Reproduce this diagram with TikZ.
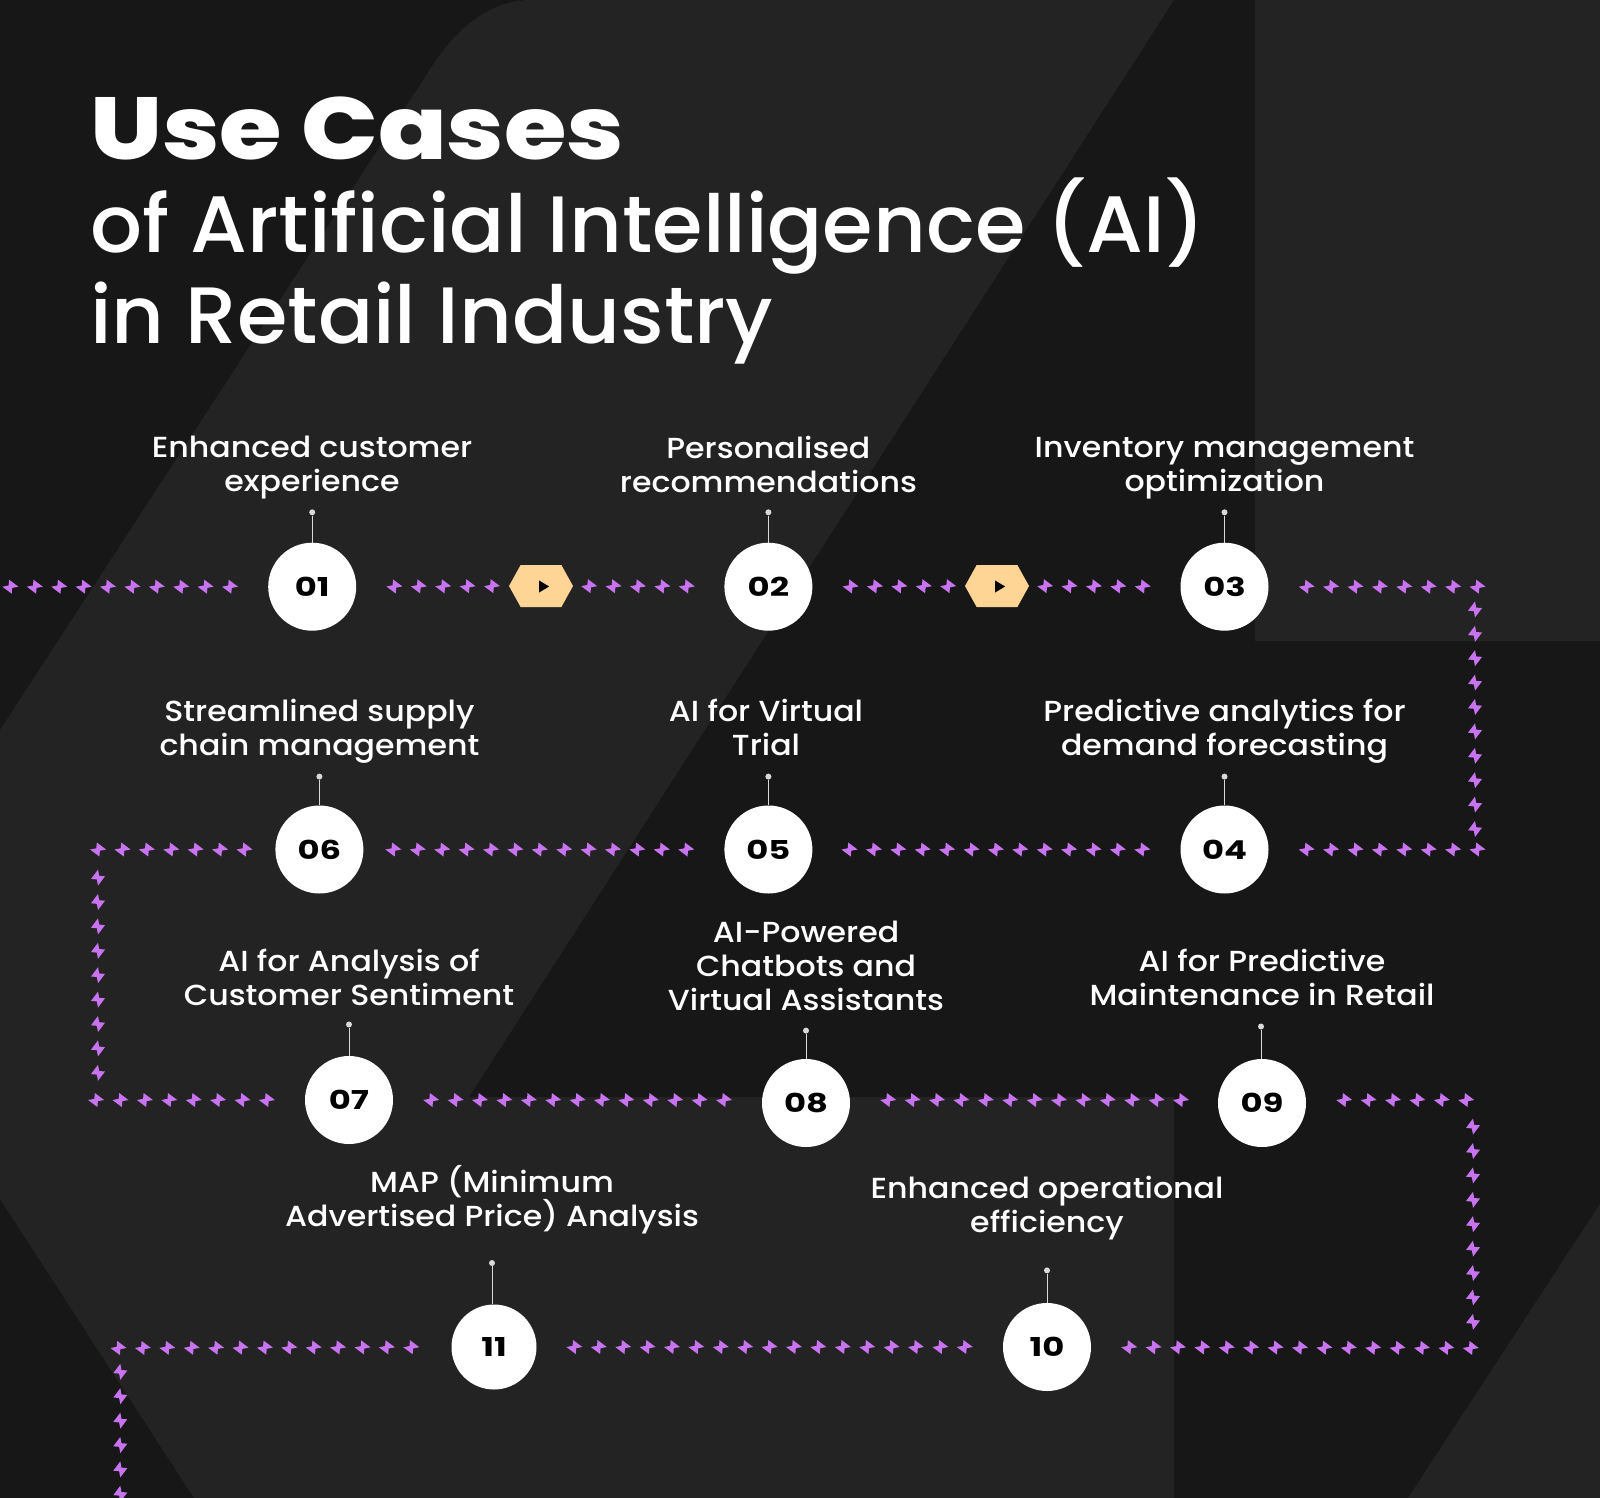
\documentclass[tikz,border=0pt]{standalone}
\usepackage{fontspec}
\setmainfont{Poppins Medium}[FakeStretch=1.09,BoldFont=Poppins ExtraBold]
\newfontfamily\numfont{Poppins}[FakeStretch=1.3]
\newfontfamily\headfont{Poppins Medium}[FakeStretch=1.02]
\newfontfamily\headboldfont{Poppins ExtraBold}[FakeStretch=1.15]
\usetikzlibrary{shapes.geometric,shapes.symbols,decorations.markings}
\definecolor{basedark}{HTML}{171717}
\definecolor{baselight}{HTML}{232323}
\definecolor{boltpurple}{HTML}{C873F0}
\definecolor{hexorange}{HTML}{FFD596}
\newcommand{\boltmark}{\fill[boltpurple] (8,0) -- (-1.3,-7) -- (-1.8,-1.2) -- (-8,0) -- (1.3,7) -- (1.8,1.2) -- cycle;}
\tikzset{
  stepcircle/.style={draw=none, fill=white, circle, minimum size=88pt, inner sep=0pt, text=black, font=\numfont\bfseries\fontsize{26}{26}\selectfont},
  steplabel/.style={align=center, text=white, font=\fontsize{29}{34}\selectfont},
  pindot/.style={fill=white!85!black, circle, minimum size=6pt, inner sep=0pt},
  pinline/.style={draw=white!85!black, line width=1pt},
  hexbadge/.style={signal, signal to=east and west, signal pointer angle=122, fill=hexorange, minimum width=64pt, minimum height=42pt, inner sep=0pt},
  playmark/.style={isosceles triangle, isosceles triangle stretches, fill=black, minimum width=12pt, minimum height=10pt, inner sep=0pt},
  boltline/.style 2 args={decorate, decoration={markings, mark=between positions #1 and -#2 step 24.4pt with {\boltmark}}}
}
\begin{document}
\begin{tikzpicture}[x=1pt,y=-1pt]
\useasboundingbox (0,0) rectangle (1600,1498);
% background
\fill[basedark] (0,0) rectangle (1600,1498);
\fill[baselight] (0,730) -- (429,71) .. controls (456,28) and (490,0) .. (531,0) -- (1174,0) -- (469,1097) -- (1174,1097) -- (1174,1498) -- (194,1498) -- (0,1199) -- cycle;
\fill[baselight] (1255,0) rectangle (1600,641);
\fill[baselight] (1408,1498) -- (1600,1204) -- (1600,1498) -- cycle;

% title
\node[anchor=base west, inner sep=0pt, text=white, font=\headboldfont\fontsize{88}{88}\selectfont] (title) at (90,160) {Use Cases};
\node[anchor=base west, inner sep=0pt, text=white, font=\headfont\fontsize{80}{80}\selectfont] (titleb) at (90,252) {of Artificial Intelligence (AI)};
\node[anchor=base west, inner sep=0pt, text=white, font=\headfont\fontsize{80}{80}\selectfont] (titlec) at (90,343) {in Retail Industry};

% steps
\node[stepcircle] (n01) at (312.2,586.7) {01};
\node[stepcircle] (n02) at (768.4,586.7) {02};
\node[stepcircle] (n03) at (1224.5,586.7) {03};
\node[stepcircle] (n04) at (1224.5,849.5) {04};
\node[stepcircle] (n05) at (768.4,849.5) {05};
\node[stepcircle] (n06) at (319.4,849.5) {06};
\node[stepcircle] (n07) at (349,1100) {07};
\node[stepcircle] (n08) at (806,1103) {08};
\node[stepcircle] (n09) at (1262,1103) {09};
\node[stepcircle] (n10) at (1047,1347) {10};
\node[stepcircle, minimum size=85pt] (n11) at (494,1347) {11};

\node[hexbadge] (h1) at (541,586) {};
\node[hexbadge] (h2) at (997,586) {};
\node[playmark] (t1) at (542.5,586.5) {};
\node[playmark] (t2) at (998.5,586.5) {};

% labels
\node[steplabel] (l01) at (312,468) {Enhanced customer\\experience};
\node[steplabel] (l02) at (768.4,464) {Personalised\\recommendations};
\node[steplabel] (l03) at (1224.5,468) {Inventory management\\optimization};
\node[steplabel] (l04) at (1224.5,731.6) {Predictive analytics for\\demand forecasting};
\node[steplabel] (l05) at (766,727.6) {AI for Virtual\\Trial};
\node[steplabel] (l06) at (319.4,731.6) {Streamlined supply\\chain management};
\node[steplabel] (l07) at (349,977.6) {AI for Analysis of\\Customer Sentiment};
\node[steplabel] (l08) at (806,966) {AI-Powered\\Chatbots and\\Virtual Assistants};
\node[steplabel] (l09) at (1262,977.6) {AI for Predictive\\Maintenance in Retail};
\node[steplabel] (l10) at (1047,1208) {Enhanced operational\\efficiency};
\node[steplabel] (l11) at (492,1200) {MAP (Minimum\\Advertised Price) Analysis};

% pins
\node[pindot] (p01) at (312.2,512.3) {};
\node[pindot] (p02) at (768.4,512.3) {};
\node[pindot] (p03) at (1224.5,512.3) {};
\node[pindot] (p04) at (1224.5,776.6) {};
\node[pindot] (p05) at (768.4,776.6) {};
\node[pindot] (p06) at (319.4,776.6) {};
\node[pindot] (p07) at (349,1024.5) {};
\node[pindot] (p08) at (806,1030.6) {};
\node[pindot] (p09) at (1261,1026.5) {};
\node[pindot] (p10) at (1047,1270.4) {};
\node[pindot] (p11) at (492,1263) {};
\draw[pinline] (p01) -- (n01);
\draw[pinline] (p02) -- (n02);
\draw[pinline] (p03) -- (n03);
\draw[pinline] (p04) -- (n04);
\draw[pinline] (p05) -- (n05);
\draw[pinline] (p06) -- (n06);
\draw[pinline] (p07) -- (n07);
\draw[pinline] (p08) -- (n08);
\draw[pinline] (p09) -- (p09 |- n09.north);
\draw[pinline] (p10) -- (n10);
\draw[pinline] (p11) -- (p11 |- n11.north);

% corners of the bolt route
\coordinate (c0) at (0,586.7);
\coordinate (c1) at (1482,586.7);
\coordinate (c1a) at (1475,609.3);
\coordinate (c2a) at (1475,835);
\coordinate (c2) at (1482,849.5);
\coordinate (c3) at (98,849.5);
\coordinate (c3a) at (98,877.5);
\coordinate (c4a) at (98,1080);
\coordinate (c4) at (96,1100);
\coordinate (c5) at (1475,1100);
\coordinate (c5a) at (1473,1126.5);
\coordinate (c6a) at (1473,1330);
\coordinate (c6) at (1478,1348);
\coordinate (c7) at (116,1348);
\coordinate (c7a) at (120.3,1371.7);
\coordinate (c8a) at (120.3,1505);

% bolt route
\path[boltline={38pt}{1pt}] (n01) -- (c0);
\path[boltline={38pt}{10pt}] (n01) -- (h1);
\path[boltline={16pt}{20pt}] (h1) -- (n02);
\path[boltline={38pt}{10pt}] (n02) -- (h2);
\path[boltline={16pt}{20pt}] (h2) -- (n03);
\path[boltline={38pt}{1pt}] (n03) -- (c1);
\path[boltline={0.1pt}{1pt}] (c1a) -- (c2a);
\path[boltline={38pt}{1pt}] (n04) -- (c2);
\path[boltline={38pt}{20pt}] (n04) -- (n05);
\path[boltline={38pt}{20pt}] (n05) -- (n06);
\path[boltline={0.1pt}{20pt}] (c3) -- (n06);
\path[boltline={0.1pt}{1pt}] (c3a) -- (c4a);
\path[boltline={0.1pt}{20pt}] (c4) -- (n07);
\path[boltline={38pt}{20pt}] (n07.east) -- (n07 -| n08.west);
\path[boltline={38pt}{20pt}] (n08.east |- n07) -- (n09.west |- n07);
\path[boltline={38pt}{1pt}] (n09.east |- n07) -- (c5);
\path[boltline={0.1pt}{1pt}] (c5a) -- (c6a);
\path[boltline={38pt}{1pt}] (n10) -- (c6);
\path[boltline={38pt}{20pt}] (n10) -- (n11);
\path[boltline={40pt}{1pt}] (n11) -- (c7);
\path[boltline={0.1pt}{1pt}] (c7a) -- (c8a);
\end{tikzpicture}
\end{document}
